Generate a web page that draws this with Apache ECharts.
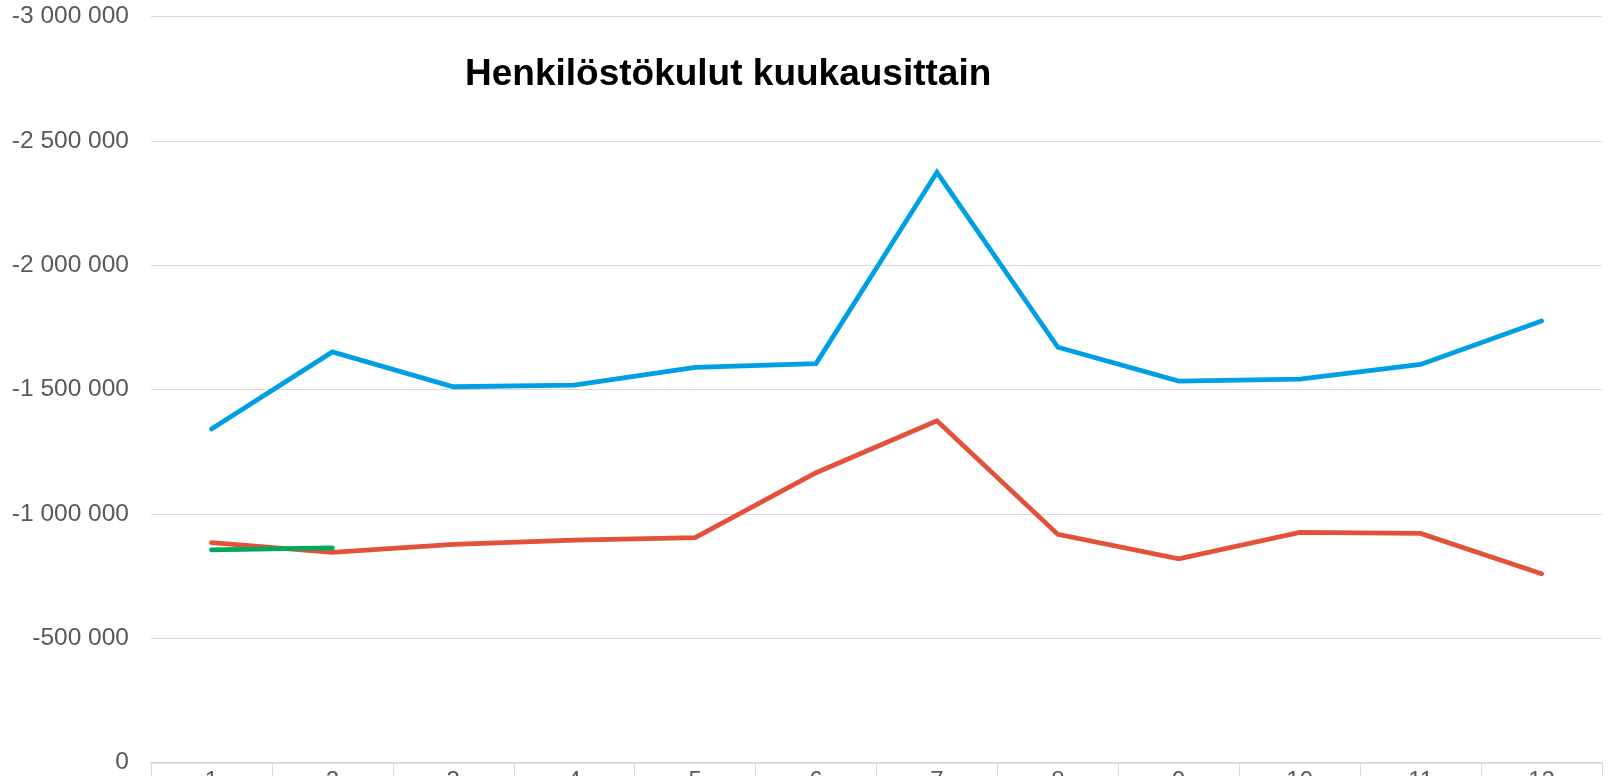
<!DOCTYPE html>
<html>
<head>
<meta charset="utf-8">
<title>Henkilöstökulut kuukausittain</title>
<script src="https://cdn.jsdelivr.net/npm/echarts@6/dist/echarts.min.js"></script>
<style>
  html, body { margin: 0; padding: 0; background: #fff; }
  #chart { width: 1608px; height: 776px; }
</style>
</head>
<body>
<div id="chart"></div>
<script>
// kuukaudet
var months = ['1', '2', '3', '4', '5', '6', '7', '8', '9', '10', '11', '12']

// sarjat (luettu kuvasta)
var blueSeries = [-1341000, -1651000, -1511000, -1518000, -1589000, -1604000, -2374000, -1670000, -1534000, -1542000, -1601000, -1776000]
var redSeries = [-884000, -845000, -877000, -894000, -904000, -1165000, -1374000, -917000, -819000, -925000, -921000, -759000]
var greenSeries = [-855000, -863000]

// y-akseli
var yMin = -3000000
var yMax = 0
var yStep = 500000

var labelColor = '#595959'
var lineGrey = '#d9d9d9'

function fmt(v) {
    var s = String(Math.abs(v)).replace(/\B(?=(\d{3})+(?!\d))/g, ' ')
    return v < 0 ? '-' + s : s
}

function lineSeries(data, color) {
    return {
        type: 'line',
        data: data,
        symbol: 'none',
        silent: true,
        lineStyle: {
            color: color,
            width: 4.8,
            cap: 'round',
            join: 'miter'
        }
    }
}

var myChart = echarts.init(document.getElementById('chart'))

var option = {
    backgroundColor: '#fff',
    animation: false,
    title: {
        text: 'Henkilöstökulut kuukausittain',
        left: 460,
        top: 51,
        textStyle: {
            color: '#000',
            fontSize: 37,
            fontWeight: 'bold',
            fontFamily: 'Liberation Sans, Arial, sans-serif'
        }
    },
    grid: {
        left: 151,
        right: 6,
        top: 16.7,
        bottom: 13.7,
        outerBoundsMode: 'none'
    },
    xAxis: {
        type: 'category',
        data: months,
        boundaryGap: true,
        axisLine: { onZero: false, lineStyle: { color: lineGrey, width: 1.5 } },
        axisTick: { show: true, length: 20, lineStyle: { color: lineGrey, width: 1 } },
        axisLabel: {
            color: labelColor,
            fontSize: 24,
            fontFamily: 'Liberation Sans, Arial, sans-serif',
            margin: 7
        },
        splitLine: { show: false }
    },
    yAxis: {
        type: 'value',
        inverse: true,
        min: yMin,
        max: yMax,
        interval: yStep,
        axisLine: { show: false },
        axisTick: { show: false },
        axisLabel: {
            color: labelColor,
            fontSize: 24.5,
            fontFamily: 'Liberation Sans, Arial, sans-serif',
            margin: 22,
            padding: [4, 0, 0, 0],
            formatter: fmt
        },
        splitLine: { lineStyle: { color: lineGrey, width: 1.2 } }
    },
    series: [
        lineSeries(blueSeries, '#009fe3'),
        lineSeries(redSeries, '#e4513a'),
        lineSeries(greenSeries, '#00a95c')
    ]
}

myChart.setOption(option)
</script>
</body>
</html>
